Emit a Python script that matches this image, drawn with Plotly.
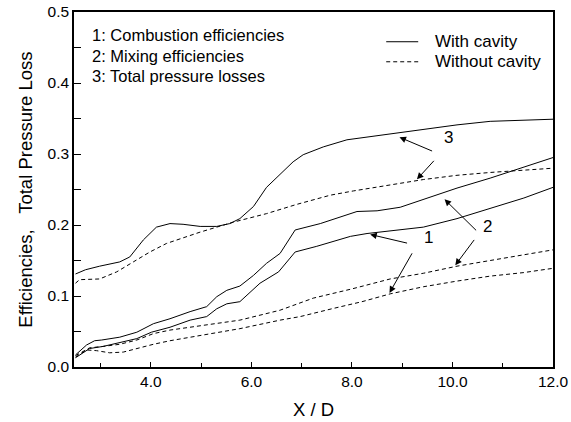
import plotly.graph_objects as go

# ---- data ----
x_c3_cav = [2.50, 2.70, 2.98, 3.38, 3.58, 3.85, 4.11, 4.38, 4.64, 4.98, 5.31, 5.57, 5.77, 6.04, 6.30, 6.70, 6.83, 7.03, 7.43, 7.90, 8.43, 8.96, 9.42, 10.09, 10.75, 11.42, 12.0]
y_c3_cav = [0.131, 0.137, 0.142, 0.148, 0.155, 0.179, 0.197, 0.202, 0.201, 0.198, 0.198, 0.202, 0.209, 0.226, 0.253, 0.280, 0.289, 0.299, 0.310, 0.320, 0.325, 0.330, 0.335, 0.341, 0.346, 0.348, 0.349]

x_c3_nocav = [2.50, 2.58, 2.98, 3.32, 3.65, 3.98, 4.31, 4.98, 5.64, 6.30, 6.90, 7.57, 8.03, 8.56, 9.00, 9.42, 10.09, 10.75, 12.0]
y_c3_nocav = [0.118, 0.123, 0.124, 0.134, 0.148, 0.162, 0.174, 0.190, 0.204, 0.216, 0.229, 0.242, 0.248, 0.254, 0.259, 0.264, 0.270, 0.274, 0.280]

x_c2_cav = [2.50, 2.72, 2.88, 3.02, 3.38, 3.72, 4.05, 4.38, 4.78, 5.11, 5.31, 5.51, 5.77, 6.04, 6.30, 6.57, 6.87, 7.37, 8.10, 8.50, 8.96, 9.42, 10.09, 10.75, 11.42, 12.0]
y_c2_cav = [0.017, 0.031, 0.037, 0.038, 0.042, 0.049, 0.061, 0.068, 0.078, 0.085, 0.099, 0.108, 0.114, 0.129, 0.146, 0.160, 0.193, 0.202, 0.219, 0.220, 0.225, 0.236, 0.252, 0.266, 0.281, 0.295]

x_c1_cav = [2.50, 2.78, 3.05, 3.38, 3.72, 4.01, 4.38, 4.78, 5.11, 5.31, 5.51, 5.77, 6.17, 6.54, 6.87, 7.30, 7.97, 8.30, 8.96, 9.42, 10.09, 10.75, 11.42, 12.0]
y_c1_cav = [0.013, 0.026, 0.029, 0.034, 0.040, 0.049, 0.056, 0.066, 0.071, 0.082, 0.089, 0.092, 0.118, 0.134, 0.162, 0.170, 0.184, 0.188, 0.193, 0.197, 0.209, 0.223, 0.238, 0.253]

x_c2_nocav = [2.50, 2.78, 3.05, 3.38, 3.72, 4.05, 4.38, 5.04, 5.77, 6.57, 7.23, 8.00, 8.76, 9.42, 10.09, 10.75, 11.42, 12.0]
y_c2_nocav = [0.016, 0.027, 0.029, 0.032, 0.038, 0.047, 0.052, 0.059, 0.066, 0.080, 0.097, 0.110, 0.124, 0.132, 0.142, 0.150, 0.158, 0.165]

x_c1_nocav = [2.50, 2.72, 2.92, 3.18, 3.45, 3.72, 4.05, 4.38, 5.04, 5.77, 6.57, 6.97, 7.60, 8.20, 8.76, 9.42, 10.09, 10.75, 11.42, 12.0]
y_c1_nocav = [0.014, 0.024, 0.023, 0.020, 0.021, 0.026, 0.032, 0.037, 0.045, 0.054, 0.066, 0.071, 0.082, 0.092, 0.103, 0.113, 0.121, 0.128, 0.133, 0.139]

legend_names = ["With cavity", "Without cavity"]
key_lines = ["1: Combustion efficiencies", "2: Mixing efficiencies", "3: Total pressure losses"]

# arrows: (label, label_x, label_y, [(head_x, head_y, tail_x, tail_y), ...])
callouts = [
    ("3", 9.916, 0.3226, [(8.946, 0.3236, 9.624, 0.3033), (9.293, 0.2643, 9.657, 0.2925)]),
    ("2", 10.687, 0.1975, [(9.843, 0.2361, 10.50, 0.1904), (10.056, 0.1434, 10.454, 0.1811)]),
    ("1", 9.524, 0.1820, [(8.363, 0.1867, 9.126, 0.1740), (8.747, 0.1044, 9.213, 0.1622)]),
]

FONT = "Liberation Sans, Arial, sans-serif"
solid = dict(color="black", width=1)
dashed = dict(color="black", width=1, dash="4px,3px")

fig = go.Figure()
series = [
    (x_c3_cav, y_c3_cav, solid, legend_names[0]),
    (x_c3_nocav, y_c3_nocav, dashed, legend_names[1]),
    (x_c2_cav, y_c2_cav, solid, legend_names[0]),
    (x_c1_cav, y_c1_cav, solid, legend_names[0]),
    (x_c2_nocav, y_c2_nocav, dashed, legend_names[1]),
    (x_c1_nocav, y_c1_nocav, dashed, legend_names[1]),
]
for xs, ys, ln, nm in series:
    fig.add_trace(go.Scatter(x=xs, y=ys, mode="lines", line=ln, showlegend=False,
                             name=nm, hoverinfo="skip"))

# key text (top-left)
for i, t in enumerate(key_lines):
    fig.add_annotation(xref="paper", yref="paper", x=0.033, y=0.9356 - i * 0.0585,
                       text=t, showarrow=False, xanchor="left", yanchor="middle",
                       font=dict(family=FONT, size=16.5, color="black"))

# legend (top-right), drawn as sample lines + text
for i, (nm, ln) in enumerate(zip(legend_names, [solid, dashed])):
    yy = 0.9162 - i * 0.0564
    fig.add_shape(type="line", xref="paper", yref="paper", x0=0.6518, x1=0.7186, y0=yy, y1=yy,
                  line=ln)
    fig.add_annotation(xref="paper", yref="paper", x=0.7499, y=yy, text=nm, showarrow=False,
                       xanchor="left", yanchor="middle",
                       font=dict(family=FONT, size=17, color="black"))

for lab, lx, ly, arrows in callouts:
    fig.add_annotation(x=lx, y=ly, text=lab, showarrow=False,
                       font=dict(family=FONT, size=17, color="black"))
    for hx, hy, tx, ty in arrows:
        fig.add_annotation(x=hx, y=hy, ax=tx, ay=ty, xref="x", yref="y", axref="x", ayref="y",
                           text="", showarrow=True, arrowhead=2, arrowsize=1.3,
                           arrowwidth=1, arrowcolor="black", standoff=0, startstandoff=0)

axis_common = dict(showline=True, linecolor="black", linewidth=1.5, mirror=True,
                   showgrid=False, zeroline=False, ticks="inside", tickcolor="black",
                   tickwidth=1.2, automargin=False,
                   tickfont=dict(family=FONT, size=15.5, color="black"))

fig.update_xaxes(range=[2.47, 12.0], tickmode="linear", tick0=0, dtick=2, tickformat=".1f",
                 ticklen=5,
                 minor=dict(ticks="inside", dtick=1, tick0=0, ticklen=4, tickcolor="black", tickwidth=1.2),
                 title=dict(text="X / D", font=dict(family=FONT, size=18.5, color="black"), standoff=14),
                 **axis_common)
fig.update_yaxes(range=[0, 0.5], tickmode="linear", tick0=0, dtick=0.1, tickformat=".1f",
                 ticklen=7,
                 minor=dict(ticks="inside", dtick=0.05, tick0=0, ticklen=7, tickcolor="black", tickwidth=1.2),
                 title=dict(text="Efficiencies,\u00a0\u00a0\u00a0Total Pressure Loss",
                            font=dict(family=FONT, size=18.5, color="black"), standoff=10),
                 **axis_common)

fig.update_layout(
    width=571, height=422,
    margin=dict(l=74, r=18, t=12, b=55, pad=0),
    plot_bgcolor="white", paper_bgcolor="white",
    font=dict(family=FONT, color="black"),
    showlegend=False,
)

fig.write_html("out.html")
